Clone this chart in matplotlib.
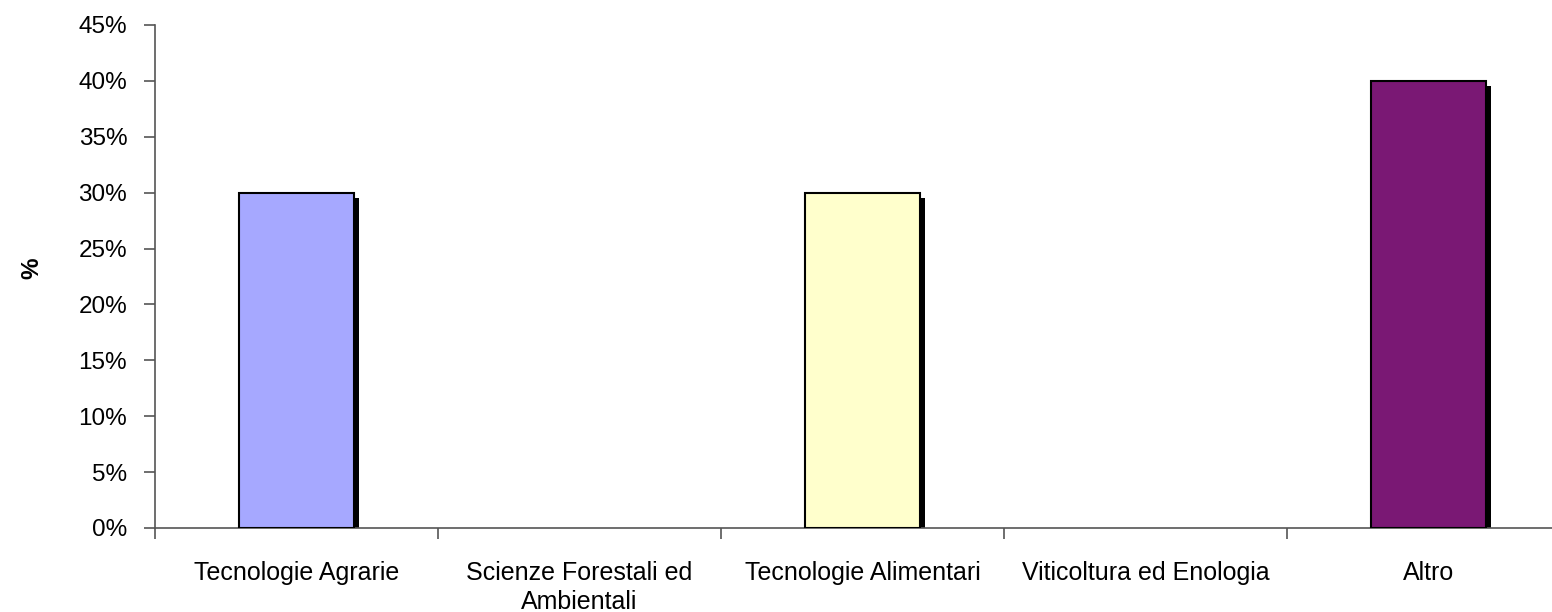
import numpy as np
import matplotlib
matplotlib.use("Agg")
import matplotlib.pyplot as plt
from matplotlib.ticker import FuncFormatter, FixedLocator

plt.rcParams['font.family'] = ['Liberation Sans', 'DejaVu Sans']

categorie = ["Tecnologie Agrarie", "Scienze Forestali ed\nAmbientali",
             "Tecnologie Alimentari", "Viticoltura ed Enologia", "Altro"]
valori = [30, 0, 30, 0, 40]
colori = ["#A6A8FF", "#FFFFCC", "#FFFFCC", "#CCFFFF", "#7A1874"]
yticks = [0, 5, 10, 15, 20, 25, 30, 35, 40, 45]

fig = plt.figure(figsize=(15.52, 6.12), dpi=100)
ax = fig.add_axes([155 / 1552, 84 / 612, 1415 / 1552, 503 / 612])

x = np.arange(len(categorie))
w = 0.403
# ombra
dx = 5 / 283
dy = 5 * 45 / 503
for xi, v in zip(x, valori):
    if v > 0:
        ax.bar(xi + dx, v - dy, width=w, color="black", zorder=2)
for xi, v, c in zip(x, valori, colori):
    if v > 0:
        ax.bar(xi, v, width=w, color=c, edgecolor="black", linewidth=1.5, zorder=3)

ax.set_xlim(-0.5, len(categorie) - 0.5)
ax.set_ylim(0, 45)
ax.set_yticks(yticks)
ax.yaxis.set_major_formatter(FuncFormatter(lambda v, p: f"{v:.0f}%"))
ax.set_xticks(x)
ax.set_xticklabels(categorie, fontsize=18, linespacing=1.25)
ax.xaxis.set_minor_locator(FixedLocator(np.arange(len(categorie) + 1) - 0.5))
ax.tick_params(axis="x", which="major", length=0, pad=24)
ax.tick_params(axis="x", which="minor", length=8, width=1.2, color="#555555", direction="out")
ax.tick_params(axis="y", length=8, width=1.2, color="#555555", pad=12, labelsize=17.5)

for s in ["top", "right"]:
    ax.spines[s].set_visible(False)
for s in ["left", "bottom"]:
    ax.spines[s].set_color("#555555")
    ax.spines[s].set_linewidth(1.2)

fig.text(32 / 1552, 1 - 268 / 612, "%", rotation=90, fontsize=17.5, fontweight="bold",
         ha="center", va="center")

fig.savefig("out.png", dpi=100)
